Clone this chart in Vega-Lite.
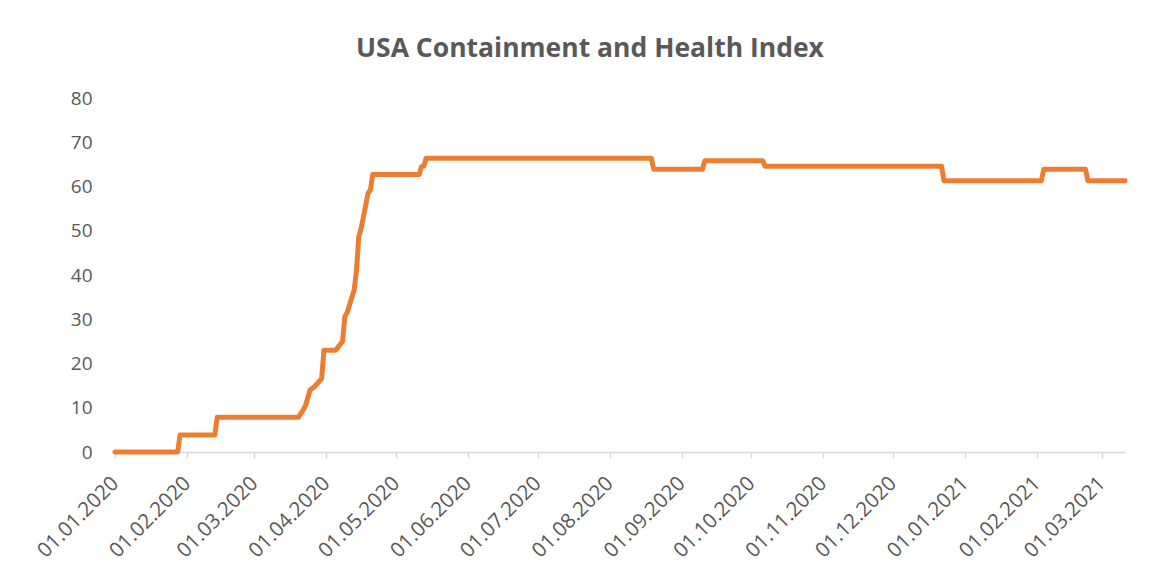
{
  "$schema": "https://vega.github.io/schema/vega-lite/v6.json",
  "autosize": "none",
  "width": 1010,
  "height": 354,
  "padding": {"left": 115, "top": 98, "right": 38, "bottom": 127},
  "background": "white",
  "title": {
    "text": "USA Containment and Health Index",
    "font": "Open Sans",
    "fontSize": 26.5,
    "fontWeight": "bold",
    "color": "#595959",
    "anchor": "middle",
    "dx": -30,
    "offset": 27
  },
  "config": {"view": {"stroke": null}},
  "data": {
    "values": [
      {"date": "2020-01-01", "value": 0},
      {"date": "2020-01-28", "value": 0},
      {"date": "2020-01-29", "value": 3.85},
      {"date": "2020-02-13", "value": 3.85},
      {"date": "2020-02-14", "value": 7.84},
      {"date": "2020-03-20", "value": 7.84},
      {"date": "2020-03-22", "value": 9.5},
      {"date": "2020-03-23", "value": 10.4},
      {"date": "2020-03-25", "value": 14.0},
      {"date": "2020-03-27", "value": 14.8},
      {"date": "2020-03-30", "value": 16.6},
      {"date": "2020-03-31", "value": 23.0},
      {"date": "2020-04-05", "value": 23.0},
      {"date": "2020-04-08", "value": 25.0},
      {"date": "2020-04-09", "value": 30.6},
      {"date": "2020-04-10", "value": 31.5},
      {"date": "2020-04-13", "value": 36.6},
      {"date": "2020-04-14", "value": 41.0},
      {"date": "2020-04-15", "value": 48.7},
      {"date": "2020-04-16", "value": 50.5},
      {"date": "2020-04-19", "value": 58.5},
      {"date": "2020-04-20", "value": 59.2},
      {"date": "2020-04-21", "value": 62.7},
      {"date": "2020-05-11", "value": 62.7},
      {"date": "2020-05-12", "value": 64.5},
      {"date": "2020-05-13", "value": 64.6},
      {"date": "2020-05-14", "value": 66.4},
      {"date": "2020-08-19", "value": 66.4},
      {"date": "2020-08-20", "value": 63.9},
      {"date": "2020-09-10", "value": 63.9},
      {"date": "2020-09-11", "value": 65.8},
      {"date": "2020-10-06", "value": 65.8},
      {"date": "2020-10-07", "value": 64.6},
      {"date": "2020-12-22", "value": 64.6},
      {"date": "2020-12-23", "value": 61.3},
      {"date": "2021-02-03", "value": 61.3},
      {"date": "2021-02-04", "value": 63.9},
      {"date": "2021-02-22", "value": 63.9},
      {"date": "2021-02-23", "value": 61.3},
      {"date": "2021-03-11", "value": 61.3}
    ]
  },
  "mark": {"type": "line", "color": "#ED7D31", "strokeWidth": 5, "strokeCap": "round", "strokeJoin": "round"},
  "encoding": {
    "x": {
      "field": "date",
      "type": "temporal",
      "scale": {
        "type": "utc",
        "domain": [
          {"year": 2020, "month": 1, "date": 1, "utc": true},
          {"year": 2021, "month": 3, "date": 11, "utc": true}
        ]
      },
      "axis": {
        "title": null,
        "values": [
          {"year": 2020, "month": 1, "date": 1, "utc": true},
          {"year": 2020, "month": 2, "date": 1, "utc": true},
          {"year": 2020, "month": 3, "date": 1, "utc": true},
          {"year": 2020, "month": 4, "date": 1, "utc": true},
          {"year": 2020, "month": 5, "date": 1, "utc": true},
          {"year": 2020, "month": 6, "date": 1, "utc": true},
          {"year": 2020, "month": 7, "date": 1, "utc": true},
          {"year": 2020, "month": 8, "date": 1, "utc": true},
          {"year": 2020, "month": 9, "date": 1, "utc": true},
          {"year": 2020, "month": 10, "date": 1, "utc": true},
          {"year": 2020, "month": 11, "date": 1, "utc": true},
          {"year": 2020, "month": 12, "date": 1, "utc": true},
          {"year": 2021, "month": 1, "date": 1, "utc": true},
          {"year": 2021, "month": 2, "date": 1, "utc": true},
          {"year": 2021, "month": 3, "date": 1, "utc": true}
        ],
        "labelExpr": "utcFormat(datum.value, '%d.%m.%Y')",
        "labelAngle": -45,
        "labelAlign": "right",
        "labelBaseline": "middle",
        "labelPadding": 22,
        "labelFont": "Open Sans",
        "labelFontSize": 20.5,
        "labelColor": "#595959",
        "labelOverlap": false,
        "labelBound": false,
        "labelFlush": false,
        "grid": false,
        "domainColor": "#D9D9D9",
        "domainWidth": 1.5,
        "tickColor": "#D9D9D9",
        "tickWidth": 1.5,
        "tickSize": 6
      }
    },
    "y": {
      "field": "value",
      "type": "quantitative",
      "scale": {"domain": [0, 80], "nice": false, "zero": true},
      "axis": {
        "title": null,
        "values": [0, 10, 20, 30, 40, 50, 60, 70, 80],
        "domain": false,
        "ticks": false,
        "grid": false,
        "labelPadding": 23,
        "labelFont": "Open Sans",
        "labelFontSize": 19,
        "labelColor": "#595959"
      }
    }
  }
}
